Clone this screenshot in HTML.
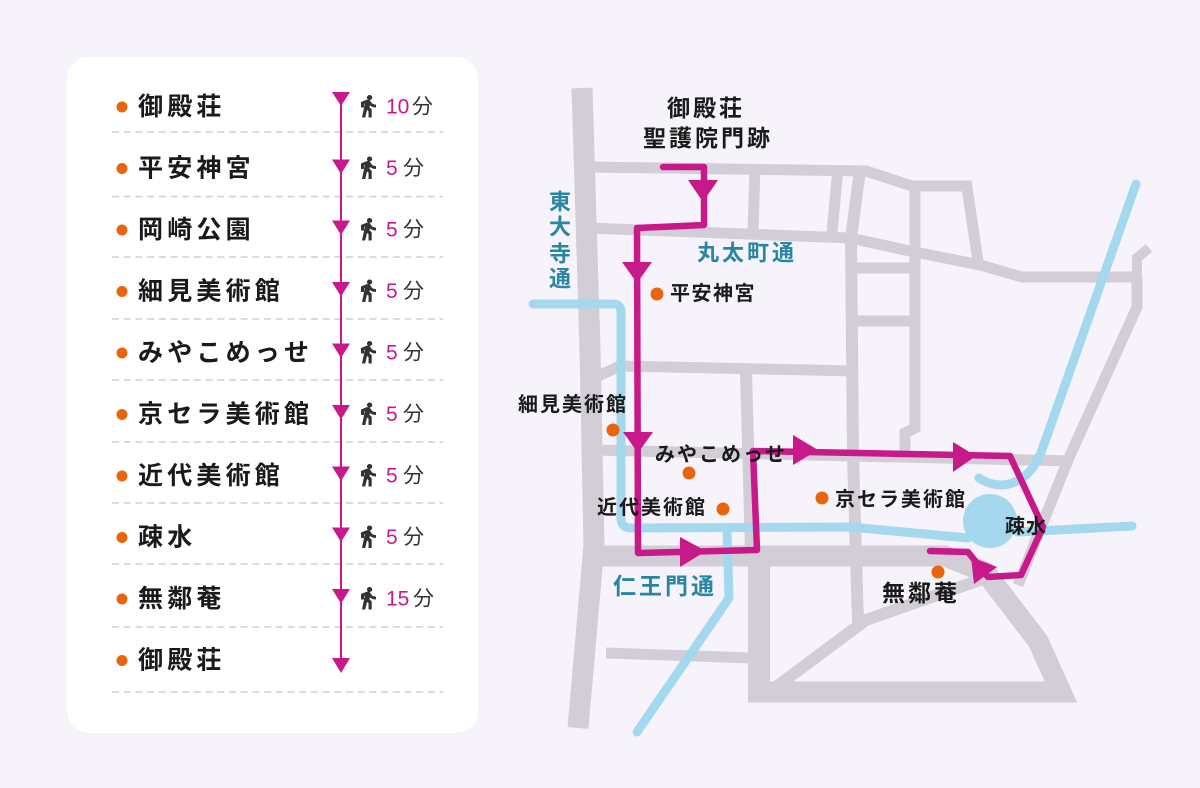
<!DOCTYPE html>
<html>
<head>
<meta charset="utf-8">
<style>
html,body{margin:0;padding:0;background:#f6f4fa;}
svg{display:block;}
text{font-family:"Liberation Sans","Noto Sans CJK JP",sans-serif;}
</style>
</head>
<body>
<svg width="1200" height="788" viewBox="0 0 1200 788" xmlns="http://www.w3.org/2000/svg">
<rect width="1200" height="788" fill="#f6f4fa"/>

<!-- LEFT CARD -->
<rect x="67" y="57" width="411" height="676" rx="22" fill="#ffffff"/>

<g stroke="#cfcdd6" stroke-width="1.5" stroke-dasharray="7 4.7">
<line x1="112" y1="132" x2="443" y2="132"/>
<line x1="112" y1="196.5" x2="443" y2="196.5"/>
<line x1="112" y1="257" x2="443" y2="257"/>
<line x1="112" y1="319" x2="443" y2="319"/>
<line x1="112" y1="380" x2="443" y2="380"/>
<line x1="112" y1="442" x2="443" y2="442"/>
<line x1="112" y1="503" x2="443" y2="503"/>
<line x1="112" y1="564" x2="443" y2="564"/>
<line x1="112" y1="627" x2="443" y2="627"/>
<line x1="112" y1="692" x2="443" y2="692"/>
</g>

<!-- timeline -->
<line x1="341" y1="92" x2="341" y2="668" stroke="#c8198a" stroke-width="2"/>
<g fill="#c8198a">
<polygon points="332,92 350,92 341,106"/>
<polygon points="332,159.5 350,159.5 341,174"/>
<polygon points="332,220.5 350,220.5 341,235"/>
<polygon points="332,282 350,282 341,296.5"/>
<polygon points="332,343.5 350,343.5 341,358"/>
<polygon points="332,405 350,405 341,419.5"/>
<polygon points="332,466.5 350,466.5 341,481"/>
<polygon points="332,527.5 350,527.5 341,542"/>
<polygon points="332,589 350,589 341,603.5"/>
<polygon points="332,658 350,658 341,673"/>
</g>

<!-- dots -->
<g fill="#e8650c">
<circle cx="122" cy="107" r="5.5"/>
<circle cx="122" cy="168.5" r="5.5"/>
<circle cx="122" cy="230" r="5.5"/>
<circle cx="122" cy="291.5" r="5.5"/>
<circle cx="122" cy="353" r="5.5"/>
<circle cx="122" cy="414.5" r="5.5"/>
<circle cx="122" cy="476" r="5.5"/>
<circle cx="122" cy="537.5" r="5.5"/>
<circle cx="122" cy="599" r="5.5"/>
<circle cx="122" cy="660.5" r="5.5"/>
</g>

<!-- list names -->
<g fill="#1a1a1a" font-size="25" font-weight="700" style="letter-spacing:4.2px" dominant-baseline="central">
<text x="138" y="107">御殿荘</text>
<text x="138" y="168.5">平安神宮</text>
<text x="138" y="230">岡崎公園</text>
<text x="138" y="291.5">細見美術館</text>
<text x="138" y="353">みやこめっせ</text>
<text x="138" y="414.5">京セラ美術館</text>
<text x="138" y="476">近代美術館</text>
<text x="138" y="537.5">疎水</text>
<text x="138" y="599">無鄰菴</text>
<text x="138" y="660.5">御殿荘</text>
</g>

<!-- walker icons -->
<defs>
<path id="walk" d="M13.5 5.5c1.1 0 2-.9 2-2s-.9-2-2-2-2 .9-2 2 .9 2 2 2zM9.8 8.9L7 23h2.1l1.8-8 2.1 2v6h2v-7.5l-2.1-2 .6-3C14.8 12 16.8 13 19 13v-2c-1.9 0-3.5-1-4.3-2.4l-1-1.6c-.4-.6-1-1-1.7-1-.3 0-.5.1-.8.1L6 8.3V13h2V9.6l1.8-.7"/>
</defs>
<g fill="#333333" stroke="#333333" stroke-width="0.9" stroke-linejoin="round">
<use href="#walk" transform="translate(355,94) scale(1.08,1.0)"/>
<use href="#walk" transform="translate(355,155.5) scale(1.08,1.0)"/>
<use href="#walk" transform="translate(355,217) scale(1.08,1.0)"/>
<use href="#walk" transform="translate(355,278.5) scale(1.08,1.0)"/>
<use href="#walk" transform="translate(355,340) scale(1.08,1.0)"/>
<use href="#walk" transform="translate(355,401.5) scale(1.08,1.0)"/>
<use href="#walk" transform="translate(355,463) scale(1.08,1.0)"/>
<use href="#walk" transform="translate(355,524.5) scale(1.08,1.0)"/>
<use href="#walk" transform="translate(355,586) scale(1.08,1.0)"/>
</g>

<!-- times -->
<g font-size="21" dominant-baseline="central">
<g fill="#c8198a">
<text x="386" y="107">10</text>
<text x="386" y="168.5">5</text>
<text x="386" y="230">5</text>
<text x="386" y="291.5">5</text>
<text x="386" y="353">5</text>
<text x="386" y="414.5">5</text>
<text x="386" y="476">5</text>
<text x="386" y="537.5">5</text>
<text x="386" y="599">15</text>
</g>
<g fill="#333333">
<text x="412" y="107">分</text>
<text x="403" y="168.5">分</text>
<text x="403" y="230">分</text>
<text x="403" y="291.5">分</text>
<text x="403" y="353">分</text>
<text x="403" y="414.5">分</text>
<text x="403" y="476">分</text>
<text x="403" y="537.5">分</text>
<text x="413" y="599">分</text>
</g>
</g>

<!-- MAP ROADS -->
<g fill="none" stroke="#d3cdd8" stroke-linejoin="miter" stroke-miterlimit="8">
<polyline points="582,88 590,350 594,545 578,728" stroke-width="21"/>
<polyline points="588,167 866,171 912,186 971,186" stroke-width="11"/>
<polyline points="966,181 979,268" stroke-width="11"/>
<polyline points="588,228 850,238 910,251 980,265 1022,277 1142,277" stroke-width="11"/>
<polyline points="1137,282 1137,258 1149,248" stroke-width="10"/>
<polyline points="1137,277 1137,307 1068,460 1018,585" stroke-width="11"/>
<polyline points="594,378 620,366 856,371" stroke-width="11"/>
<polyline points="746,371 751,552" stroke-width="12"/>
<polyline points="594,450 1072,461" stroke-width="11"/>
<polyline points="860,170 851,238 853,455 858,622" stroke-width="12"/>
<polyline points="915,186 915,428 905,433 905,458" stroke-width="11"/>
<polyline points="755,167 753,232" stroke-width="11"/>
<polyline points="838,168 832,233" stroke-width="11"/>
<polyline points="851,268 915,268" stroke-width="11"/>
<polyline points="853,321 915,321" stroke-width="11"/>
<polyline points="590,556 945,556 985,572 1038,641 1061,692 748,692" stroke-width="21"/>
<polyline points="759,556 759,702" stroke-width="22"/>
<polyline points="606,653 752,658" stroke-width="11"/>
<polyline points="772,690 866,620 980,580" stroke-width="12"/>
</g>

<!-- WATER -->
<g fill="none" stroke="#a3d8ee" stroke-width="9" stroke-linecap="round" stroke-linejoin="round">
<path d="M533,304 L613,304 Q621,304 621,312 L621,518 Q621,528 631,528 L850,527 L968,538"/>
<path d="M727,530 L729,598 L637,732"/>
<path d="M1018,532 L1132,526"/>
<path d="M1136,184 L1042,450 Q1030,482 1003,485 Q989,485 979,478"/>
</g>
<circle cx="990" cy="521" r="27" fill="#a3d8ee"/>

<!-- ROUTE -->
<polyline points="663,167 704,167 704,225 637,228 638,553 757,550 753,451 1010,456 1043,527 1021,575 988,577 968,552 930,551" fill="none" stroke="#c8198a" stroke-width="6.5" stroke-linejoin="round" stroke-linecap="round"/>
<g fill="#c8198a">
<polygon points="688,180 718,180 703,202"/>
<polygon points="622,262 652,262 637,283"/>
<polygon points="623,432 653,432 638,453"/>
<polygon points="680,537 680,567 706,551"/>
<polygon points="793,435 793,465 818,450"/>
<polygon points="953,442 953,472 976,456"/>
<polygon points="971,557 997,567 974,584"/>
</g>

<!-- map dots -->
<g fill="#e8650c">
<circle cx="657" cy="294" r="6.5"/>
<circle cx="613" cy="430" r="6.5"/>
<circle cx="689" cy="473" r="6.5"/>
<circle cx="723" cy="509" r="6.5"/>
<circle cx="822" cy="498" r="6.5"/>
<circle cx="938" cy="572" r="6.5"/>
</g>

<!-- map labels -->
<g fill="#1a1a1a" font-weight="600" dominant-baseline="central">
<text x="667" y="108" font-size="23" style="letter-spacing:3px">御殿荘</text>
<text x="643" y="138" font-size="23" style="letter-spacing:3px">聖護院門跡</text>
<text x="670" y="294" font-size="20" style="letter-spacing:1.5px">平安神宮</text>
<text x="518" y="405" font-size="20" style="letter-spacing:2px">細見美術館</text>
<text x="655" y="455" font-size="20" style="letter-spacing:2px">みやこめっせ</text>
<text x="597" y="508" font-size="20" style="letter-spacing:2px">近代美術館</text>
<text x="835" y="500" font-size="20" style="letter-spacing:2px">京セラ美術館</text>
<text x="1005" y="527" font-size="20" style="letter-spacing:1px">疎水</text>
<text x="882" y="593" font-size="23" style="letter-spacing:3px">無鄰菴</text>
</g>
<g fill="#2886a3" font-weight="600" font-size="22" dominant-baseline="central">
<text x="560" y="202" text-anchor="middle">東</text>
<text x="560" y="227" text-anchor="middle">大</text>
<text x="560" y="254" text-anchor="middle">寺</text>
<text x="560" y="279" text-anchor="middle">通</text>
<text x="697" y="253" style="letter-spacing:3px">丸太町通</text>
<text x="613" y="586" font-size="23" style="letter-spacing:3px">仁王門通</text>
</g>
</svg>
</body>
</html>
